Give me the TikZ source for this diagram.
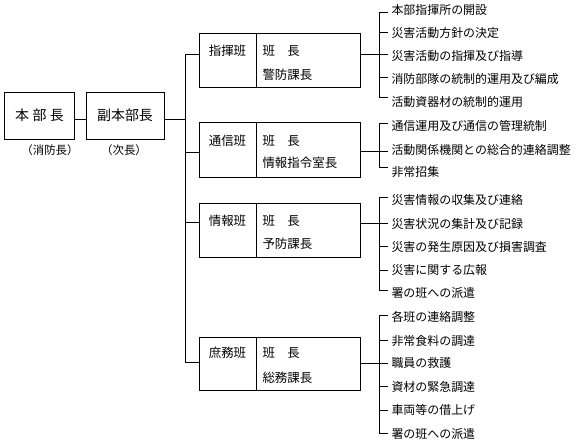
\documentclass[tikz,border=0pt]{standalone}
\usepackage{fontspec}
\setmainfont{Noto Sans CJK JP}
\begin{document}
\begin{tikzpicture}[x=1bp,y=-1bp,line width=1bp,
  mainbox/.style={draw,inner sep=0,minimum height=47bp,font=\fontsize{14}{16}\selectfont,text height=0.88em,text depth=0.12em},
  cellbox/.style={draw,inner sep=0,minimum width=#1},
  note/.style={inner sep=0,font=\fontsize{11.5}{13}\selectfont,text height=0.88em,text depth=0.12em},
  lbl/.style={inner sep=0,font=\fontsize{12.5}{14}\selectfont,text height=0.88em,text depth=0.12em},
  item/.style={anchor=west,inner xsep=3bp,inner ysep=0,font=\fontsize{12}{14}\selectfont,text height=0.88em,text depth=0.12em}]
\useasboundingbox (0,0) rectangle (576,446);
% top level
\node[mainbox,minimum width=69bp] (hq) at (39.5,116.5) {本\hspace{3.5pt}部\hspace{3.5pt}長};
\node[mainbox,minimum width=78bp] (dep) at (125,116.5) {副本部長};
\node[note] (hqn) at (50,151) {（消防長）};
\node[note] (depn) at (124,151) {（次長）};
\draw ([yshift=-3.5bp]hq.east) -- ([yshift=-3.5bp]dep.west);
\coordinate (sp1) at (185,55);
\coordinate (sp4) at (185,362);
\draw ([yshift=-3.5bp]dep.east) -- ([yshift=-3.5bp]dep.east -| sp1);
\draw (sp1) -- (sp4);
% group boxes
\foreach \n/\cy/\h in {1/61/54,2/150.5/55,3/230.5/53,4/363.5/53}{
  \node[cellbox=57bp,minimum height=\h bp] (g\n l) at (227.5,\cy) {};
  \node[cellbox=104bp,minimum height=\h bp] (g\n r) at (308,\cy) {};
}
% texts in boxes
\node[lbl] (t1a) at (227.5,52) {指揮班};
\node[lbl,anchor=west] (t1b) at (262,52) {班　長};
\node[lbl,anchor=west] (t1c) at (262,76) {警防課長};
\node[lbl] (t2a) at (227.5,142) {通信班};
\node[lbl,anchor=west] (t2b) at (262,142) {班　長};
\node[lbl,anchor=west] (t2c) at (262,164) {情報指令室長};
\node[lbl] (t3a) at (227.5,222) {情報班};
\node[lbl,anchor=west] (t3b) at (262,222) {班　長};
\node[lbl,anchor=west] (t3c) at (262,245) {予防課長};
\node[lbl] (t4a) at (227.5,354) {庶務班};
\node[lbl,anchor=west] (t4b) at (262,354) {班　長};
\node[lbl,anchor=west] (t4c) at (262,379) {総務課長};
% spine to boxes
\draw (sp1) -- (sp1 -| g1l.west);
\draw (185,153) -- (g2l.west |- 0,153);
\draw (185,223) -- (g3l.west |- 0,223);
\draw (sp4) -- (sp4 -| g4l.west);
% brackets
\coordinate (k1) at (379,55);
\coordinate (k2) at (379,152);
\coordinate (k3) at (379,224);
\coordinate (k4) at (379,363);
\draw (g1r.east |- k1) -- (k1);
\draw (g2r.east |- k2) -- (k2);
\draw (g3r.east |- k3) -- (k3);
\draw (g4r.east |- k4) -- (k4);
% group 1 items
\node[item] (a1) at (388,11) {本部指揮所の開設};
\node[item] (a2) at (388,34) {災害活動方針の決定};
\node[item] (a3) at (388,57) {災害活動の指揮及び指導};
\node[item] (a4) at (388,80) {消防部隊の統制的運用及び編成};
\node[item] (a5) at (388,103) {活動資器材の統制的運用};
\draw (a1.west |- 0,13) -| (379,98) -- (a5.west |- 0,98);
\draw (379,33) -- (a2.west |- 0,33);
\draw (379,55) -- (a3.west |- 0,55);
\draw (379,78) -- (a4.west |- 0,78);
% group 2 items
\node[item] (b1) at (388,127) {通信運用及び通信の管理統制};
\node[item] (b2) at (388,151) {活動関係機関との総合的連絡調整};
\node[item] (b3) at (388,173) {非常招集};
\draw (b1.west |- 0,124) -| (379,168) -- (b3.west |- 0,168);
\draw (379,152) -- (b2.west |- 0,152);
% group 3 items
\node[item] (c1) at (388,201) {災害情報の収集及び連絡};
\node[item] (c2) at (388,225) {災害状況の集計及び記録};
\node[item] (c3) at (388,248) {災害の発生原因及び損害調査};
\node[item] (c4) at (388,271) {災害に関する広報};
\node[item] (c5) at (388,294) {署の班への派遣};
\draw (c1.west |- 0,198) -| (379,290) -- (c5.west |- 0,290);
\draw (379,224) -- (c2.west |- 0,224);
\draw (379,247) -- (c3.west |- 0,247);
\draw (379,270) -- (c4.west |- 0,270);
% group 4 items
\node[item] (d1) at (388,318) {各班の連絡調整};
\node[item] (d2) at (388,342) {非常食料の調達};
\node[item] (d3) at (388,364) {職員の救護};
\node[item] (d4) at (388,388) {資材の緊急調達};
\node[item] (d5) at (388,411) {車両等の借上げ};
\node[item] (d6) at (388,435) {署の班への派遣};
\draw (d1.west |- 0,315) -| (379,433) -- (d6.west |- 0,433);
\draw (379,340) -- (d2.west |- 0,340);
\draw (379,363) -- (d3.west |- 0,363);
\draw (379,386) -- (d4.west |- 0,386);
\draw (379,410) -- (d5.west |- 0,410);
\end{tikzpicture}
\end{document}
